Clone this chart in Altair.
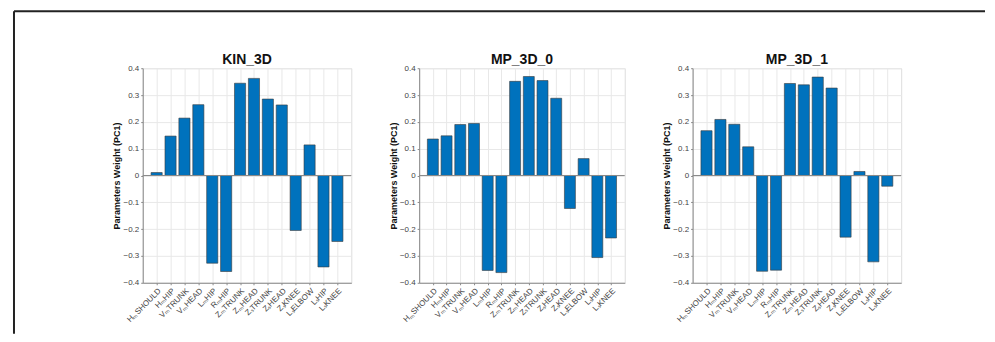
import altair as alt
import pandas as pd

labels = ["H\u2098SHOULD", "H\u2098HIP", "V\u2098TRUNK", "V\u2098HEAD", "L\u2098HIP", "R\u2098HIP",
          "Z\u2098TRUNK", "Z\u2098HEAD", "Z\u209BTRUNK", "Z\u209BHEAD", "Z\u209BKNEE", "L\u209BELBOW",
          "L\u209BHIP", "L\u209BKNEE"]
positions = list(range(1, 15))

titles = ["KIN_3D", "MP_3D_0", "MP_3D_1"]
kin_3d = [0.011, 0.147, 0.214, 0.264, -0.327, -0.358, 0.344, 0.362, 0.285, 0.263, -0.205, 0.114, -0.341, -0.246]
mp_3d_0 = [0.136, 0.148, 0.190, 0.194, -0.354, -0.362, 0.351, 0.369, 0.354, 0.288, -0.123, 0.063, -0.306, -0.233]
mp_3d_1 = [0.167, 0.209, 0.191, 0.107, -0.357, -0.353, 0.343, 0.338, 0.367, 0.326, -0.230, 0.015, -0.322, -0.040]
series = [kin_3d, mp_3d_0, mp_3d_1]
y_ticks = [-0.4, -0.3, -0.2, -0.1, 0, 0.1, 0.2, 0.3, 0.4]

FONT = "Liberation Sans, Arial, Helvetica, sans-serif"
label_map = "{" + ",".join(f"'{p}':'{l}'" for p, l in zip(positions, labels)) + "}"
x_label_expr = f"{label_map}[datum.value]"
y_label_expr = "datum.value == 0 ? '0' : replace(format(datum.value, '.1f'), '-', '\u2212')"

widths = [209, 206, 209]
HEIGHT = 215


def y_axis():
    return alt.Axis(values=y_ticks, labelExpr=y_label_expr, labelFontSize=8,
                    labelColor="#444444", grid=True, gridColor="#e8e8e8",
                    domainColor="#8a8a8a", tickColor="#8a8a8a", tickSize=2,
                    labelPadding=2, labelOverlap=False, labelFlush=False,
                    title="Parameters Weight (PC1)",
                    titleFontSize=9, titleFontWeight="bold", titleColor="#111111",
                    titlePadding=1)


def panel(idx):
    df = pd.DataFrame({"pos": positions, "label": labels, "value": series[idx]})
    base = alt.Chart(df)
    x_axis = alt.Axis(values=positions, labelExpr=x_label_expr, labelAngle=-45,
                      labelAlign="right", labelBaseline="top", labelFontSize=8,
                      labelColor="#444444", grid=True, gridColor="#e8e8e8",
                      domainColor="#8a8a8a", tickColor="#8a8a8a", tickSize=2,
                      labelPadding=2, title=None, labelOverlap=False)
    yscale = alt.Scale(domain=[-0.4, 0.4], nice=False)
    bars = base.transform_calculate(
        x1="datum.pos - 0.4", x2="datum.pos + 0.4"
    ).mark_bar(color="#0072BD", stroke="#3a3a3a", strokeWidth=0.6).encode(
        x=alt.X("x1:Q", scale=alt.Scale(domain=[0, 15], nice=False, zero=False), axis=x_axis),
        x2="x2:Q",
        y=alt.Y("value:Q", scale=yscale, axis=y_axis()),
        y2=alt.datum(0),
    )
    one = pd.DataFrame({"a": [0]})
    zero = alt.Chart(pd.DataFrame({"z": [0]})).mark_rule(color="#8a8a8a", strokeWidth=1).encode(
        y=alt.Y("z:Q", scale=yscale, axis=y_axis()),
        x=alt.value(0), x2=alt.value(widths[idx]),
    )
    title = alt.Chart(one).mark_text(
        text=titles[idx], font=FONT, fontSize=14, fontWeight="bold", color="#111111",
        align="center", baseline="alphabetic"
    ).encode(x=alt.value(widths[idx] / 2), y=alt.value(-4))
    layers = [bars, zero, title]
    if idx == 0:
        vline = alt.Chart(one).mark_rule(color="#222222", strokeWidth=2).encode(
            x=alt.value(-129), y=alt.value(-57), y2=alt.value(266))
        hline = alt.Chart(one).mark_rule(color="#222222", strokeWidth=2).encode(
            x=alt.value(-129), x2=alt.value(844), y=alt.value(-57))
        layers += [vline, hline]
    return alt.layer(*layers).properties(width=widths[idx], height=HEIGHT)


chart = alt.hconcat(panel(0), panel(1), panel(2), spacing=68, bounds="flush").properties(
    padding={"left": 4, "top": 1, "right": 0, "bottom": 0}
).configure_view(stroke=None).configure_axis(
    labelFont=FONT, titleFont=FONT
).configure(background="white")

chart.save("out.html", embed_options={"renderer": "svg", "actions": False})
